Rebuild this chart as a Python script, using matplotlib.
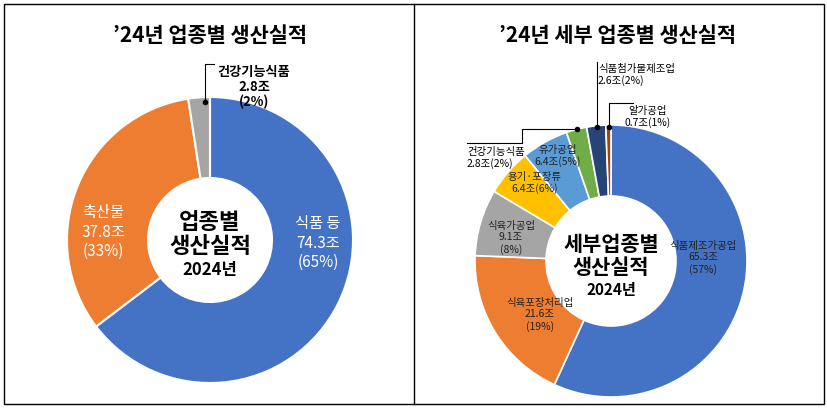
import matplotlib.pyplot as plt
from matplotlib.patches import Rectangle

plt.rcParams["font.family"] = ["Noto Sans CJK JP", "Noto Sans CJK KR", "Noto Sans CJK SC", "DejaVu Sans"]

# left chart data
left_names = ["식품 등", "축산물", "건강기능식품"]
left_vals = [74.3, 37.8, 2.8]
left_pcts = [65, 33, 2]
left_colors = ["#4472C4", "#ED7D31", "#A5A5A5"]

# right chart data
right_names = ["식품제조가공업", "식육포장처리업", "식육가공업", "용기·포장류",
               "유가공업", "건강기능식품", "식품첨가물제조업", "알가공업"]
right_vals = [65.3, 21.6, 9.1, 6.4, 6.4, 2.8, 2.6, 0.7]
right_pcts = [57, 19, 8, 6, 5, 2, 2, 1]
right_colors = ["#4472C4", "#ED7D31", "#A5A5A5", "#FFC000",
                "#5B9BD5", "#70AD47", "#264478", "#9E480E"]

W, H = 828, 412
fig = plt.figure(figsize=(W / 100, H / 100), dpi=100)
ax = fig.add_axes([0, 0, 1, 1])

# pies (y axis is inverted afterwards, so counterclock=True reads clockwise on screen)
ax.pie(left_vals, colors=left_colors, center=(210, 240), radius=143, startangle=-90,
       counterclock=True, wedgeprops=dict(width=81, ec="white", lw=1.5), frame=True)
ax.pie(right_vals, colors=right_colors, center=(611, 261), radius=136, startangle=-90,
       counterclock=True, wedgeprops=dict(width=71, ec="white", lw=1.2), frame=True)
ax.set_xlim(0, W)
ax.set_ylim(H, 0)
ax.set_aspect("auto")
ax.axis("off")

# frame
ax.add_patch(Rectangle((4, 4), 820, 400, fill=False, lw=1, ec="black"))
ax.plot([414, 414], [4, 404], color="black", lw=1)

ax.text(210, 35, "’24년 업종별 생산실적", ha="center", va="center", fontsize=15, weight="bold")
ax.text(618, 35, "’24년 세부 업종별 생산실적", ha="center", va="center", fontsize=15, weight="bold")

# centre text
ax.text(210, 222, "업종별", ha="center", va="center", fontsize=16, weight="bold")
ax.text(210, 246, "생산실적", ha="center", va="center", fontsize=16, weight="bold")
ax.text(210, 270, "2024년", ha="center", va="center", fontsize=12, weight="bold")
ax.text(611, 244, "세부업종별", ha="center", va="center", fontsize=15, weight="bold")
ax.text(611, 267, "생산실적", ha="center", va="center", fontsize=15, weight="bold")
ax.text(611, 290, "2024년", ha="center", va="center", fontsize=11, weight="bold")

def lbl(i, names, vals, pcts):
    return f"{names[i]}\n{vals[i]}조\n({pcts[i]}%)"

# left labels
ax.text(318, 243, lbl(0, left_names, left_vals, left_pcts), ha="center", va="center",
        color="white", fontsize=11, linespacing=1.2)
ax.text(103, 232, lbl(1, left_names, left_vals, left_pcts), ha="center", va="center",
        color="white", fontsize=11, linespacing=1.2)
ax.text(254, 87, lbl(2, left_names, left_vals, left_pcts), ha="center", va="center",
        fontsize=9.5, weight="bold", linespacing=1.1)
ax.plot([205, 205, 214], [102, 64, 64], color="black", lw=0.8)
ax.plot([205], [102], "o", color="black", ms=3)

# right labels
small = dict(ha="center", va="center", fontsize=7.5, linespacing=1.15, color="#222222")
ax.text(703, 258, lbl(0, right_names, right_vals, right_pcts), **small)
ax.text(540, 315, lbl(1, right_names, right_vals, right_pcts), **small)
ax.text(511, 238, lbl(2, right_names, right_vals, right_pcts), **small)
ax.text(535, 183, f"{right_names[3]}\n{right_vals[3]}조({right_pcts[3]}%)", **small)
ax.text(558, 156, f"{right_names[4]}\n{right_vals[4]}조({right_pcts[4]}%)", **small)
ax.text(467, 158, f"{right_names[5]}\n{right_vals[5]}조({right_pcts[5]}%)",
        ha="left", va="center", fontsize=7.5, linespacing=1.15)
ax.text(598, 75, f"{right_names[6]}\n{right_vals[6]}조({right_pcts[6]}%)",
        ha="left", va="center", fontsize=7.5, linespacing=1.15)
ax.text(648, 117, f"{right_names[7]}\n{right_vals[7]}조({right_pcts[7]}%)",
        ha="center", va="center", fontsize=7.5, linespacing=1.15)

ax.plot([467, 522, 522, 577], [143, 143, 129, 129], color="black", lw=0.8)
ax.plot([577], [129], "o", color="black", ms=3)
ax.plot([597, 597], [62, 127], color="black", lw=0.8)
ax.plot([597], [127], "o", color="black", ms=3)
ax.plot([609, 609, 633], [127, 103, 103], color="black", lw=0.8)
ax.plot([609], [127], "o", color="black", ms=3)

fig.savefig("out.png", dpi=100)
